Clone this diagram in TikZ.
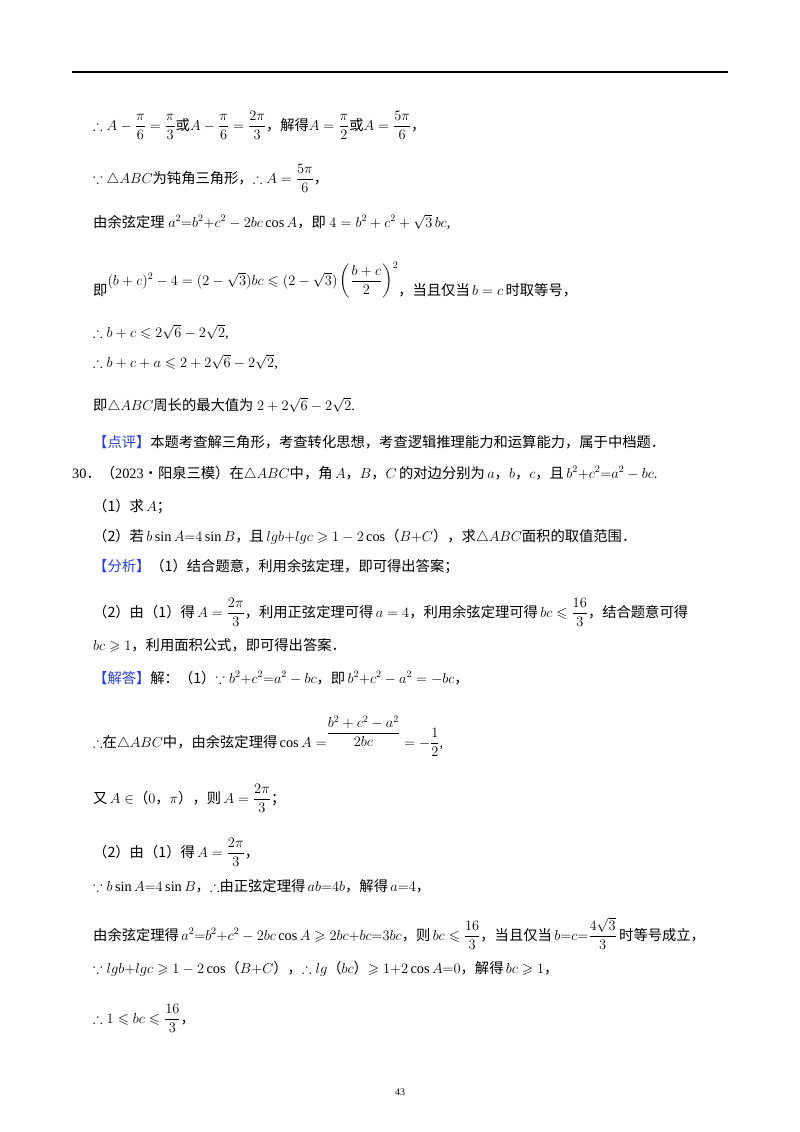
\documentclass[tikz,border=0pt]{standalone}
\usepackage{amsmath,amssymb}
\usepackage{fontspec}
\setmainfont{Liberation Serif}
\newfontfamily\cj{Noto Sans CJK SC}
\newcommand{\zh}[1]{{\cj #1}}
\definecolor{tagblue}{RGB}{40,60,230}
\begin{document}
\begin{tikzpicture}[x=1pt,y=-1pt,every node/.style={anchor=base west,inner sep=0pt,font=\fontsize{14.3}{17}\selectfont}]
\useasboundingbox (0,0) rectangle (800,1132);
\draw[line width=1.2pt] (72,72) -- (728,72);
\node (l1) at (93,130) {$\therefore A-\dfrac{\pi}{6}=\dfrac{\pi}{3}$\zh{或}$A-\dfrac{\pi}{6}=\dfrac{2\pi}{3}$\zh{，解得}$A=\dfrac{\pi}{2}$\zh{或}$A=\dfrac{5\pi}{6}$\zh{，}};
\node (l2) at (93,183) {$\because\triangle ABC$\zh{为钝角三角形，}$\therefore A=\dfrac{5\pi}{6}$\zh{，}};
\node (l3) at (93,227) {\zh{由余弦定理} $a^2{=}b^2{+}c^2-2bc\cos A$\zh{，即} $4=b^2+c^2+\sqrt{3}\,bc$,};
\node (l4) at (93,295) {\zh{即}\raisebox{10pt}{$(b+c)^2-4=(2-\sqrt{3})bc\leqslant(2-\sqrt{3})\left(\dfrac{b+c}{2}\right)^2$}\zh{，当且仅当}\,$b=c$\,\zh{时取等号，}};
\node (l5) at (93,337) {$\therefore b+c\leqslant 2\sqrt{6}-2\sqrt{2}$,};
\node (l6) at (93,367) {$\therefore b+c+a\leqslant 2+2\sqrt{6}-2\sqrt{2}$,};
\node (l7) at (93,410) {\zh{即}$\triangle ABC$\zh{周长的最大值为} $2+2\sqrt{6}-2\sqrt{2}$.};
\node (l8) at (93,447) {\zh{\textcolor{tagblue}{【点评】}本题考查解三角形，考查转化思想，考查逻辑推理能力和运算能力，属于中档题．}};
\node (l9) at (72,478) {30\zh{．（}2023\zh{•阳泉三模）在}$\triangle ABC$\zh{中，角}\,$A$\zh{，}$B$\zh{，}$C$\,\zh{的对边分别为}\,$a$\zh{，}$b$\zh{，}$c$\zh{，且}\,$b^2{+}c^2{=}a^2-bc$.};
\node (l10) at (93,511) {\zh{（1）求}\,$A$\zh{；}};
\node (l11) at (93,541) {\zh{（2）若}\,$b\sin A{=}4\sin B$\zh{，且}\,$lgb{+}lgc\geqslant1-2\cos$\zh{（}$B{+}C$\zh{），求}$\triangle ABC$\zh{面积的取值范围．}};
\node (l12) at (93,571) {\zh{\textcolor{tagblue}{【分析】}（1）结合题意，利用余弦定理，即可得出答案；}};
\node (l13) at (93,617) {\zh{（2）由（1）得}\,$A=\dfrac{2\pi}{3}$\zh{，利用正弦定理可得}\,$a=4$\zh{，利用余弦定理可得}\,$bc\leqslant\dfrac{16}{3}$\zh{，结合题意可得}};
\node (l14) at (93,650) {$bc\geqslant1$\zh{，利用面积公式，即可得出答案．}};
\node (l15) at (93,683) {\zh{\textcolor{tagblue}{【解答】}解：（1）}$\because b^2{+}c^2{=}a^2-bc$\zh{，即}\,$b^2{+}c^2-a^2=-bc$\zh{，}};
\node (l16) at (93,747) {$\therefore$\zh{在}$\triangle ABC$\zh{中，由余弦定理得}\,$\cos A=$\raisebox{10pt}{$\dfrac{b^2+c^2-a^2}{2bc}$}$\;=-\dfrac{1}{2}$,};
\node (l17) at (93,803) {\zh{又}\,$A\in$\zh{（}$0$\zh{，}$\pi$\zh{），则}\,$A=\dfrac{2\pi}{3}$\zh{；}};
\node (l18) at (93,857) {\zh{（2）由（1）得}\,$A=\dfrac{2\pi}{3}$\zh{，}};
\node (l19) at (93,891) {$\because b\sin A{=}4\sin B$\zh{，}$\therefore$\zh{由正弦定理得}\,$ab{=}4b$\zh{，解得}\,$a{=}4$\zh{，}};
\node (l20) at (93,940) {\zh{由余弦定理得}\,$a^2{=}b^2{+}c^2-2bc\cos A\geqslant2bc{+}bc{=}3bc$\zh{，则}\,$bc\leqslant\dfrac{16}{3}$\zh{，当且仅当}\,$b{=}c{=}\dfrac{4\sqrt{3}}{3}$\,\zh{时等号成立，}};
\node (l21) at (93,973) {$\because lgb{+}lgc\geqslant1-2\cos$\zh{（}$B{+}C$\zh{），}$\therefore lg$\zh{（}$bc$\zh{）}$\geqslant1{+}2\cos A{=}0$\zh{，解得}\,$bc\geqslant1$\zh{，}};
\node (l22) at (93,1023) {$\therefore 1\leqslant bc\leqslant\dfrac{16}{3}$\zh{，}};
\node[anchor=base,font=\fontsize{10}{12}\selectfont] (pg) at (400,1095) {43};
\end{tikzpicture}
\end{document}
